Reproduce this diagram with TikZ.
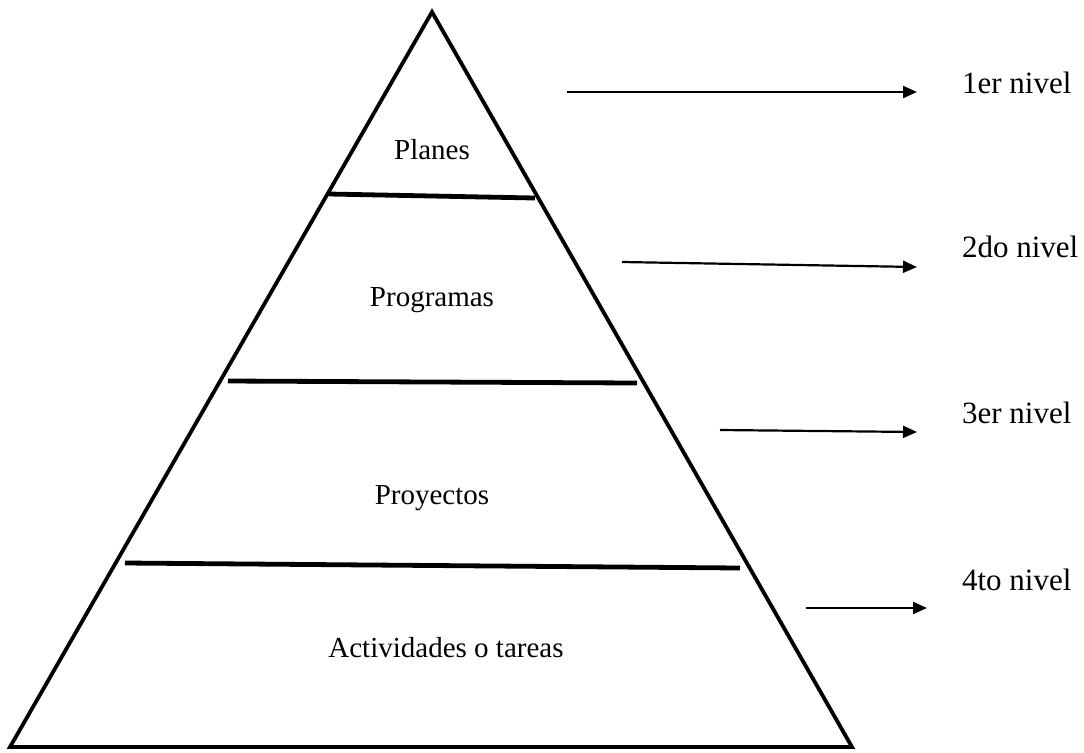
\documentclass[tikz,border=0pt]{standalone}
\usepackage{fontspec}
\setmainfont{Liberation Serif}
\usetikzlibrary{arrows.meta}
\tikzset{
    > = {Triangle[length=7pt,width=6pt]},
    layer/.style = {font=\fontsize{14.5}{17}\selectfont},
    level/.style = {anchor=west, font=\fontsize{15.5}{18}\selectfont},
    divider/.style = {line width=2.4pt},
    pointer/.style = {->, line width=1.1pt}
}

\begin{document}
\begin{tikzpicture}[x=0.5pt, y=-0.5pt]
    \useasboundingbox (0, 0) rectangle (1084, 752);

    \coordinate (top) at (432, 12);
    \coordinate (bl) at (10, 747);
    \coordinate (br) at (852, 747);
    \draw[line width=1.9pt, line join=miter] (top) -- (bl) -- (br) -- cycle;

    \draw[divider] (329, 194) -- (535, 198);
    \draw[divider] (228, 381) -- (637, 383);
    \draw[divider] (125, 563) -- (740, 568);

    \node[layer] (planes) at (432, 150) {Planes};
    \node[layer] (programas) at (432, 300) {Programas};
    \node[layer] (proyectos) at (432, 498) {Proyectos};
    \node[layer] (actividades) at (446, 648) {Actividades o tareas};

    \node[level] (n1) at (955, 83) {1er nivel};
    \node[level] (n2) at (955, 247) {2do nivel};
    \node[level] (n3) at (955, 413) {3er nivel};
    \node[level] (n4) at (955, 580) {4to nivel};

    \coordinate (a1) at (567, 92);
    \coordinate (b1) at (917, 92);
    \coordinate (a2) at (622, 262);
    \coordinate (b2) at (917, 267);
    \coordinate (a3) at (720, 430);
    \coordinate (b3) at (917, 432);
    \coordinate (a4) at (806, 608);
    \coordinate (b4) at (927, 608);

    \draw[pointer] (a1) -- (b1);
    \draw[pointer] (a2) -- (b2);
    \draw[pointer] (a3) -- (b3);
    \draw[pointer] (a4) -- (b4);
\end{tikzpicture}
\end{document}
